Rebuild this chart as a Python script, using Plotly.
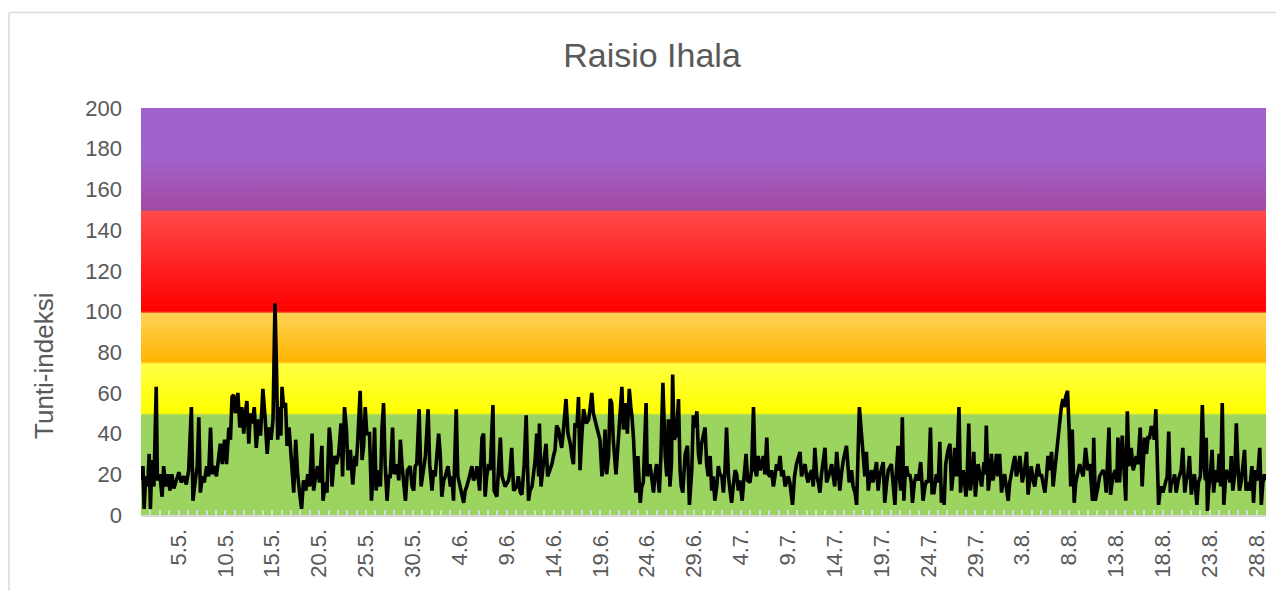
import plotly.graph_objects as go

# ---------------- data ----------------
title_text = "Raisio Ihala"
y_title = "Tunti-indeksi"

# hours since 1.5. 00:00 and the hourly air-quality index read at those hours
hours = [
    0, 5, 8, 12, 17, 21, 24, 28, 33, 39, 42, 48, 54, 58, 63, 69, 74, 79, 84, 90, 97, 103, 110, 116, 122,
    129, 133, 139, 144, 148, 152, 157, 162, 168, 173, 178, 182, 188, 193, 198, 203, 208, 214, 219, 225,
    229, 233, 237, 242, 248, 253, 258, 263, 267, 271, 276, 280, 285, 290, 295, 301, 306, 312, 318, 323,
    328, 333, 338, 343, 347, 350, 354, 358, 361, 365, 370, 374, 379, 384, 391, 396, 401, 406, 411, 416,
    422, 427, 432, 438, 442, 447, 452, 457,
    463, 466, 472, 476, 482, 486, 489, 495, 500, 506, 512, 516, 521, 526, 530, 536, 542, 548, 551, 555,
    561, 566, 570, 574, 578, 585, 590, 594, 598, 602, 607, 613, 617, 621, 625, 630, 634, 638, 644, 648,
    655, 660, 664, 668, 672, 677, 682, 689, 694, 698, 702, 706, 712, 717, 723, 728, 735, 739, 745, 749,
    753, 762, 766, 770, 775, 779, 786, 792, 796, 800, 807, 811, 817, 821, 826, 830, 834, 841, 847, 851,
    856, 860, 867, 873, 877, 881, 885, 890, 894, 901, 904, 911, 915, 920, 924, 928, 932, 941, 945, 949,
    954, 962,
    966, 971, 975, 981, 986, 992, 996, 1001, 1005, 1009, 1013, 1018, 1020, 1024, 1030, 1037, 1041, 1047,
    1052, 1056, 1060, 1064, 1069, 1073, 1077, 1082, 1088, 1093, 1099, 1103, 1107, 1111, 1116, 1120, 1124,
    1128, 1133, 1140, 1146, 1150, 1154, 1158, 1163, 1167, 1171, 1175, 1180, 1184, 1188, 1192, 1197, 1201,
    1205, 1209, 1216, 1222, 1226, 1231, 1235, 1238, 1242, 1245, 1250, 1254, 1257, 1261, 1267, 1272, 1278,
    1282, 1286, 1293, 1296, 1303, 1308, 1312, 1316, 1320, 1327, 1331, 1336, 1339, 1342, 1346, 1350, 1354,
    1358, 1361, 1365, 1371, 1376, 1380, 1383, 1387, 1393, 1399, 1404, 1410, 1414, 1418, 1423, 1427, 1431,
    1435, 1444, 1448,
    1452, 1457, 1461, 1465, 1469, 1474, 1478, 1482, 1487, 1491, 1495, 1499, 1504, 1508, 1512, 1516, 1521,
    1525, 1529, 1533, 1539, 1544, 1549, 1553, 1559, 1563, 1568, 1572, 1576, 1580, 1585, 1589, 1593, 1597,
    1602, 1606, 1610, 1614, 1619, 1623, 1627, 1631, 1636, 1640, 1644, 1649, 1653, 1657, 1661, 1668, 1673,
    1678, 1687, 1691, 1695, 1700, 1704, 1708, 1712, 1717, 1721, 1725, 1730, 1734, 1738, 1742, 1751, 1755,
    1762, 1768, 1772, 1776, 1781, 1785, 1789, 1793, 1798, 1806, 1813, 1819, 1823, 1828, 1832, 1839, 1843,
    1849, 1853, 1857, 1862, 1866, 1870, 1874, 1883, 1887, 1891, 1900, 1904, 1909, 1913, 1921, 1926, 1930,
    1934, 1938,
    1941, 1945, 1949, 1953, 1956, 1960, 1964, 1968, 1972, 1975, 1980, 1985, 1990, 1996, 1999, 2002, 2007,
    2011, 2016, 2021, 2025, 2030, 2036, 2041, 2045, 2049, 2054, 2056, 2060, 2066, 2071, 2075, 2079, 2083,
    2088, 2094, 2098, 2101, 2105, 2112, 2115, 2119, 2123, 2128, 2132, 2136, 2143, 2147, 2152, 2158, 2161,
    2164, 2169, 2173, 2177, 2181, 2186, 2190, 2194, 2198, 2203, 2207, 2211, 2215, 2220, 2224, 2228, 2233,
    2237, 2241, 2245, 2250, 2256, 2262, 2267, 2271, 2275, 2279, 2284, 2288, 2292, 2296, 2301, 2305, 2309,
    2314, 2318, 2322, 2326, 2331, 2335, 2339, 2343, 2348, 2352, 2356, 2360, 2364, 2367, 2372, 2376, 2380,
    2384, 2389, 2393, 2397, 2403, 2407, 2412, 2418, 2424,
    2429, 2433, 2436, 2439, 2443, 2450, 2454, 2463, 2467, 2471, 2478, 2482, 2488, 2494, 2498, 2501, 2505,
    2512, 2516, 2521, 2525, 2529, 2535, 2540, 2544, 2548, 2552, 2558, 2563, 2566, 2569, 2574, 2578, 2582,
    2586, 2591, 2594, 2598, 2601, 2605, 2609, 2612, 2616, 2621, 2627, 2631, 2635, 2638, 2642, 2646, 2650,
    2655, 2659, 2663, 2667, 2672, 2676, 2680, 2684, 2689, 2693, 2697, 2703, 2707, 2712, 2717, 2721, 2725,
    2727, 2730, 2733, 2737, 2742, 2746, 2749, 2753, 2756, 2760, 2764, 2768, 2772, 2776, 2778, 2784, 2788,
    2791, 2795, 2800, 2804, 2808, 2812, 2817, 2821, 2825, 2829, 2834, 2838, 2844, 2848, 2853, 2858, 2864,
    2868, 2872, 2876, 2879,
]

index_values = [
    17, 24, 3, 19, 14, 30, 3, 27, 14, 63, 17, 20, 9, 24, 14, 20, 12, 20, 13, 17, 21, 16, 19, 15, 22,
    53, 7, 17, 24, 48, 11, 19, 16, 24, 19, 43, 20, 24, 19, 27, 35, 25, 37, 25, 43,
    37, 58, 59, 50, 60, 43, 53, 40, 50, 56, 35, 50, 45, 53, 33, 47, 39, 62, 47, 30,
    43, 37, 47, 104, 71, 37, 53, 39, 63, 53, 55, 34, 43, 27, 11, 37, 20, 11, 3, 17,
    12, 20, 14, 40, 12, 19, 24, 16,
    34, 7, 16, 11, 43, 35, 14, 29, 25, 30, 45, 19, 53, 42, 22, 32, 15, 29, 24, 37,
    61, 27, 34, 53, 40, 40, 7, 20, 43, 12, 22, 14, 43, 55, 25, 7, 19, 19, 43, 20,
    25, 17, 37, 25, 16, 7, 22, 24, 14, 12, 24, 25, 52, 14, 22, 29, 52, 25, 12, 22,
    19, 40, 30, 9, 17, 19, 24, 14, 19, 7, 52, 19, 14, 11, 6, 12, 14, 19, 24, 17,
    19, 24, 12, 38, 40, 9, 19, 25, 22, 54, 12, 9, 20, 38, 19, 16, 14, 17, 22, 33,
    12, 14,
    19, 11, 10, 25, 49, 7, 12, 14, 20, 27, 40, 19, 45, 14, 25, 35, 19, 22,
    25, 29, 32, 44, 42, 37, 33, 43, 57, 40, 35, 29, 25, 45, 43, 58, 22,
    37, 52, 45, 47, 53, 60, 50, 45, 43, 40, 37, 19, 25, 42, 20, 29, 57,
    55, 37, 20, 38, 45, 63, 42, 48, 55, 40, 62, 53, 48, 37, 11, 29, 6,
    14, 16, 55, 19, 25, 16, 11, 20, 25, 11, 29, 65, 40, 29, 19, 47, 14,
    25, 69, 37, 40, 57, 22, 14, 11, 30, 34, 5, 22, 49, 43, 51, 30, 25,
    35, 43, 25,
    19, 29, 12, 19, 7, 14, 24, 20, 19, 11, 22, 43, 19, 12, 6, 14, 22,
    20, 12, 17, 7, 19, 30, 17, 16, 22, 53, 22, 19, 29, 22, 25, 29, 20,
    38, 20, 19, 22, 14, 19, 25, 22, 29, 19, 22, 14, 16, 19, 16, 5, 19,
    25, 31, 19, 22, 25, 19, 16, 20, 22, 14, 33, 19, 16, 11, 20, 33, 16,
    20, 25, 19, 14, 31, 20, 12, 20, 27, 34, 16, 22, 14, 11, 5, 53, 42,
    25, 19, 31, 12, 19, 22, 16, 26, 12, 19, 26, 6, 16, 22, 25, 14, 5,
    22, 34,
    20, 12, 48, 7, 19, 24, 19, 20, 16, 6, 16, 20, 17, 26, 17, 7, 14,
    17, 16, 43, 11, 11, 20, 16, 36, 6, 14, 5, 25, 32, 35, 12, 20, 33,
    19, 53, 11, 19, 22, 9, 19, 45, 12, 19, 31, 9, 25, 19, 14, 26, 20,
    44, 12, 19, 30, 17, 22, 30, 19, 30, 11, 17, 20, 14, 7, 16, 20, 24,
    29, 19, 22, 29, 16, 22, 31, 10, 19, 24, 17, 14, 20, 25, 19, 20, 16,
    11, 19, 29, 22, 31, 14, 22, 30, 37, 45, 53, 57, 53, 58, 61, 42, 14,
    42, 6, 16, 19, 25, 22, 19, 33, 22,
    25, 14, 7, 38, 7, 14, 19, 22, 20, 11, 43, 10, 19, 22, 16, 38, 16,
    39, 25, 7, 51, 24, 33, 22, 25, 29, 25, 43, 14, 25, 38, 30, 38, 38,
    43, 43, 37, 52, 24, 5, 12, 14, 11, 14, 19, 41, 11, 17, 16, 20, 11,
    17, 20, 22, 33, 11, 17, 20, 29, 10, 17, 20, 5, 16, 19, 54, 25, 17,
    38, 2, 12, 19, 32, 11, 17, 22, 16, 30, 14, 55, 5, 16, 22, 20, 16,
    29, 12, 20, 45, 25, 12, 17, 25, 32, 12, 16, 12, 24, 6, 22, 17, 33,
    5, 16, 20, 17,
]

# x-axis labels (day.month.), one every five days
tick_labels = ["5.5.", "10.5.", "15.5.", "20.5.", "25.5.", "30.5.", "4.6.", "9.6.", "14.6.", "19.6.",
               "24.6.", "29.6.", "4.7.", "9.7.", "14.7.", "19.7.", "24.7.", "29.7.", "3.8.", "8.8.",
               "13.8.", "18.8.", "23.8.", "28.8."]

# air-quality classes: limits and gradient colours (bottom colour, top colour)
band_limits = [0, 50, 75, 100, 150, 200]
band_colours = [
    [[0, "#9BD45E"], [1, "#9BD45E"]],
    [[0, "#FFFF00"], [1, "#FFFF45"]],
    [[0, "#FFB400"], [1, "#FFD458"]],
    [[0, "#FF0000"], [1, "#FF4B4B"]],
    [[0, "#A24AA2"], [0.5, "#A062CB"], [1, "#9F62CC"]],
]
band_edge_colours = ["#E4F02A", "#FFDD3A", "#FF3A18", "#A9558A", None]

n_days = 120
# ---------------------------------------------------------------------

month_start = {5: 0, 6: 31, 7: 61, 8: 92}
tick_vals = []
for lab in tick_labels:
    d, m = [int(p) for p in lab.strip(".").split(".")]
    tick_vals.append(month_start[m] + d - 1)

x_days = [h / 24 for h in hours]

fig = go.Figure()

for i in range(len(band_limits) - 1):
    lo, hi = band_limits[i], band_limits[i + 1]
    fig.add_trace(go.Scatter(
        x=[0, n_days, n_days, 0, 0], y=[lo, lo, hi, hi, lo],
        mode="lines", fill="toself", line=dict(width=0),
        fillgradient=dict(type="vertical", colorscale=band_colours[i], start=lo, stop=hi),
        hoverinfo="skip", showlegend=False))
    if band_edge_colours[i]:
        fig.add_trace(go.Scatter(
            x=[0, n_days], y=[hi, hi], mode="lines",
            line=dict(width=2.5, color=band_edge_colours[i]),
            hoverinfo="skip", showlegend=False))

fig.add_trace(go.Scatter(
    x=x_days, y=index_values, mode="lines",
    line=dict(color="black", width=3.6),
    name=y_title, showlegend=False))

font_family = "Liberation Sans, Arial, sans-serif"
grey = "#595959"

# the page body adds an 8 px offset; the figure is sized so the plot lands where the reference has it
W, H, OFF = 1276, 583, 8
plot_left, plot_right, plot_top, plot_bottom = 141, 1266, 108, 515

fig.update_layout(
    width=W, height=H,
    margin=dict(l=plot_left - OFF, r=W + OFF - plot_right, t=plot_top - OFF, b=H + OFF - plot_bottom,
                autoexpand=False),
    paper_bgcolor="white", plot_bgcolor="white",
    font=dict(family=font_family, color=grey, size=22),
    title=dict(text=title_text, x=(652 - OFF) / W, xref="container", xanchor="center",
               y=1 - (55 - OFF) / H, yref="container", yanchor="middle",
               font=dict(size=34, color=grey, family=font_family)),
    showlegend=False,
)

fig.update_xaxes(
    range=[0, n_days], tickvals=tick_vals, ticktext=tick_labels, tickangle=-90,
    showgrid=False, zeroline=False, automargin=False,
    showline=True, linecolor="#D9D9D9", linewidth=2,
    ticks="inside", ticklen=5, tickcolor="#D9D9D9", tickwidth=1.5,
    minor=dict(tick0=0, dtick=1, ticks="inside", ticklen=5, tickcolor="#D9D9D9", tickwidth=1.5),
    tickfont=dict(size=22, color=grey),
    ticklabelstandoff=3,
)

fig.update_yaxes(
    range=[0, 200], dtick=20, showgrid=False, zeroline=False, showline=False, automargin=False,
    tickfont=dict(size=22, color=grey), ticks="", ticklabelstandoff=18,
)

pw, ph = plot_right - plot_left, plot_bottom - plot_top
fig.add_annotation(text=y_title, textangle=-90, xref="paper", yref="paper",
                   x=(44 - plot_left) / pw, y=(plot_bottom - 366) / ph, xanchor="center", yanchor="middle",
                   showarrow=False, font=dict(size=26, color=grey, family=font_family))

# chart-area border (left and top edges visible)
bx, by = (9 - plot_left) / pw, (plot_bottom - 12.5) / ph
fig.add_shape(type="line", xref="paper", yref="paper",
              x0=bx, x1=bx, y0=-0.3, y1=by, line=dict(color="#D9D9D9", width=1.5))
fig.add_shape(type="line", xref="paper", yref="paper",
              x0=bx, x1=1.05, y0=by, y1=by, line=dict(color="#D9D9D9", width=1.5))

fig.write_html("out.html")
